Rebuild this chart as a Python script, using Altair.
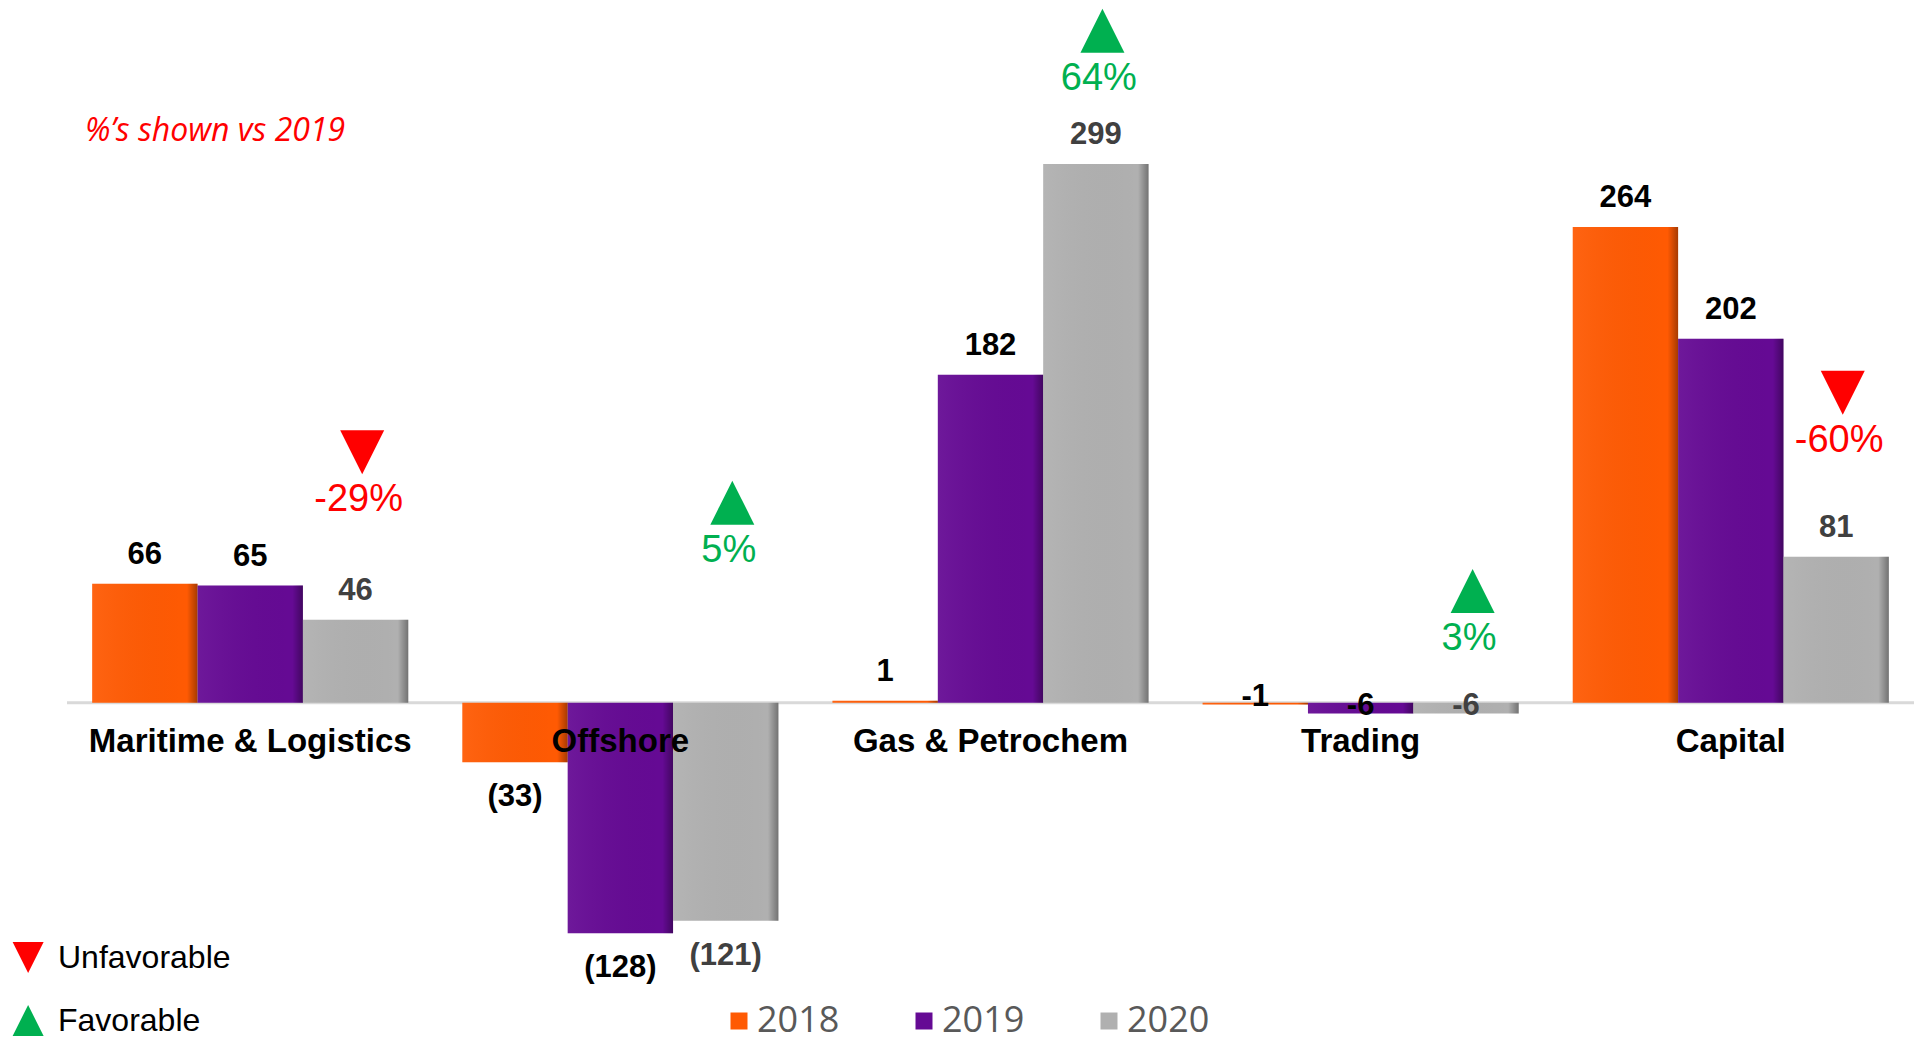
import altair as alt
import pandas as pd

categories = ["Maritime & Logistics", "Offshore", "Gas & Petrochem", "Trading", "Capital"]
years = ["2018", "2019", "2020"]
values_2018 = [66, -33, 1, -1, 264]
values_2019 = [65, -128, 182, -6, 202]
values_2020 = [46, -121, 299, -6, 81]
labels_2018 = ["66", "(33)", "1", "-1", "264"]
labels_2019 = ["65", "(128)", "182", "-6", "202"]
labels_2020 = ["46", "(121)", "299", "-6", "81"]
pct_change = ["-29%", "5%", "64%", "3%", "-60%"]
pct_status = ["Unfavorable", "Favorable", "Favorable", "Favorable", "Unfavorable"]
marker_level = [139, 111, 373, 62, 172]
note_text = "%\u2019s shown vs 2019"

year_colors = ["#FF5A03", "#650A94", "#B0B0B0"]
status_domain = ["Unfavorable", "Favorable"]
status_colors = ["#FF0000", "#00B050"]
# triangle paths (slightly shifted to the right of the 2020 bar centre)
status_shapes = ["M-0.7,-1L1.3,-1L0.3,1Z", "M0.3,-1L1.3,1L-0.7,1Z"]

rows = []
for vals, labs, yr in [(values_2018, labels_2018, "2018"),
                       (values_2019, labels_2019, "2019"),
                       (values_2020, labels_2020, "2020")]:
    for c, v, l in zip(categories, vals, labs):
        rows.append({"category": c, "year": yr, "value": v, "label": l})
bars_df = pd.DataFrame(rows)

ann_df = pd.DataFrame({
    "category": categories,
    "year": ["2020"] * len(categories),
    "pct": pct_change,
    "status": pct_status,
    "level": marker_level,
})

yscale = alt.Scale(domain=[-190, 390], nice=False, zero=False)

x_enc = alt.X(
    "category:N", sort=categories,
    scale=alt.Scale(paddingInner=0.146, paddingOuter=0.068),
    axis=alt.Axis(title=None, orient="bottom", offset=-342, domain=False, ticks=False,
                  labelAngle=0, labelFont="Liberation Sans", labelFontWeight="bold",
                  labelFontSize=33, labelColor="#000000", labelPadding=22, zindex=1,
                  grid=False, labelLimit=0),
)
xo_enc = alt.XOffset("year:N", sort=years, scale=alt.Scale(paddingInner=0, paddingOuter=0))

base_rule = alt.Chart(pd.DataFrame({"zero": [0]})).mark_rule(
    color="#D9D9D9", strokeWidth=3
).encode(y=alt.Y("zero:Q", scale=yscale, axis=None))

bars = alt.Chart(bars_df).mark_bar().encode(
    x=x_enc,
    xOffset=xo_enc,
    y=alt.Y("value:Q", scale=yscale, axis=None),
    fill=alt.Fill(
        "year:N",
        scale=alt.Scale(domain=years, range=year_colors),
        legend=alt.Legend(
            title=None, orient="none", direction="horizontal", legendX=654, legendY=1003,
            symbolType="square", symbolSize=289, symbolStrokeWidth=0,
            labelFont="Open Sans", labelFontSize=36, labelColor="#595959",
            labelOffset=0, columnPadding=66, padding=0, labelLimit=0,
        ),
    ),
)

shade = alt.Chart(bars_df).mark_bar(
    color=alt.Gradient(
        gradient="linear", x1=0, x2=1, y1=0, y2=0,
        stops=[
            alt.GradientStop(offset=0, color="rgba(255,255,255,0.06)"),
            alt.GradientStop(offset=0.9, color="rgba(0,0,0,0)"),
            alt.GradientStop(offset=1, color="rgba(0,0,0,0.35)"),
        ],
    )
).encode(x=x_enc, xOffset=xo_enc, y=alt.Y("value:Q", scale=yscale, axis=None))

label_color = alt.condition(alt.datum.year == "2020", alt.value("#404040"), alt.value("#000000"))

def value_labels(filter_expr, dy):
    return alt.Chart(bars_df).transform_filter(filter_expr).mark_text(
        font="Liberation Sans", fontWeight="bold", fontSize=31, baseline="middle", dy=dy
    ).encode(
        x=x_enc, xOffset=xo_enc,
        y=alt.Y("value:Q", scale=yscale, axis=None),
        text="label:N",
        color=label_color,
    )

labels_pos = value_labels("datum.value >= 0", -29)
labels_neg = value_labels("datum.value < -10", 35)
labels_small = value_labels("datum.value < 0 && datum.value >= -10", -7)

markers = alt.Chart(ann_df).mark_point(filled=True, size=1936, opacity=1).encode(
    x=x_enc, xOffset=xo_enc,
    y=alt.Y("level:Q", scale=yscale, axis=None),
    color=alt.Color(
        "status:N",
        scale=alt.Scale(domain=status_domain, range=status_colors),
        legend=alt.Legend(
            title=None, orient="none", legendX=-60, legendY=941, direction="vertical",
            symbolSize=961, labelFont="Liberation Sans", labelFontSize=32,
            labelColor="#000000", labelOffset=18, rowPadding=30, padding=0, labelLimit=0,
        ),
    ),
    shape=alt.Shape("status:N", scale=alt.Scale(domain=status_domain, range=status_shapes)),
)

pct_text = alt.Chart(ann_df).mark_text(
    font="Liberation Sans", fontSize=38, baseline="middle", dy=48, dx=3
).encode(
    x=x_enc, xOffset=xo_enc,
    y=alt.Y("level:Q", scale=yscale, axis=None),
    text="pct:N",
    color=alt.Color("status:N", scale=alt.Scale(domain=status_domain, range=status_colors), legend=None),
)

chart = alt.layer(
    base_rule, bars, shade, labels_pos, labels_neg, labels_small, markers, pct_text
).properties(
    width=1847, height=1045,
    padding={"left": 67, "top": 0, "right": 0, "bottom": 0},
    autosize=alt.AutoSizeParams(type="none"),
    title=alt.TitleParams(
        text=note_text, anchor="start", frame="group", orient="top", offset=0,
        dx=18, dy=163, baseline="middle", color="#FF0000", font="Open Sans",
        fontStyle="italic", fontWeight="normal", fontSize=32,
    ),
).configure_view(stroke=None)

chart.save("out.html", embed_options={"renderer": "svg", "actions": False})
